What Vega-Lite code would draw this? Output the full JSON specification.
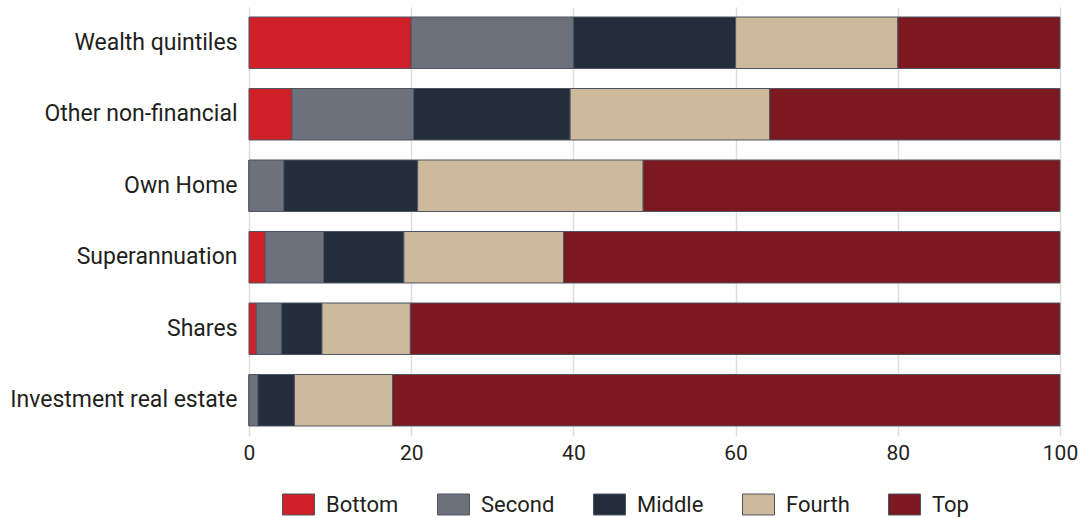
{
  "$schema": "https://vega.github.io/schema/vega-lite/v6.json",
  "width": 811,
  "height": 429,
  "padding": {"left": 249, "top": 7, "right": 20, "bottom": 82},
  "autosize": {"type": "none"},
  "background": "white",
  "config": {
    "view": {"stroke": null},
    "font": "Roboto",
    "axis": {"labelFont": "Roboto", "labelColor": "#231f20"},
    "legend": {"labelFont": "Roboto", "labelColor": "#231f20"}
  },
  "data": {
    "values": [
      {"category": "Wealth quintiles", "quintile": "Bottom", "rank": 1, "share": 20},
      {"category": "Wealth quintiles", "quintile": "Second", "rank": 2, "share": 20},
      {"category": "Wealth quintiles", "quintile": "Middle", "rank": 3, "share": 20},
      {"category": "Wealth quintiles", "quintile": "Fourth", "rank": 4, "share": 20},
      {"category": "Wealth quintiles", "quintile": "Top", "rank": 5, "share": 20},
      {"category": "Other non-financial", "quintile": "Bottom", "rank": 1, "share": 5.3},
      {"category": "Other non-financial", "quintile": "Second", "rank": 2, "share": 15.0},
      {"category": "Other non-financial", "quintile": "Middle", "rank": 3, "share": 19.3},
      {"category": "Other non-financial", "quintile": "Fourth", "rank": 4, "share": 24.6},
      {"category": "Other non-financial", "quintile": "Top", "rank": 5, "share": 35.8},
      {"category": "Own Home", "quintile": "Bottom", "rank": 1, "share": 0},
      {"category": "Own Home", "quintile": "Second", "rank": 2, "share": 4.3},
      {"category": "Own Home", "quintile": "Middle", "rank": 3, "share": 16.5},
      {"category": "Own Home", "quintile": "Fourth", "rank": 4, "share": 27.8},
      {"category": "Own Home", "quintile": "Top", "rank": 5, "share": 51.4},
      {"category": "Superannuation", "quintile": "Bottom", "rank": 1, "share": 2.0},
      {"category": "Superannuation", "quintile": "Second", "rank": 2, "share": 7.2},
      {"category": "Superannuation", "quintile": "Middle", "rank": 3, "share": 9.9},
      {"category": "Superannuation", "quintile": "Fourth", "rank": 4, "share": 19.7},
      {"category": "Superannuation", "quintile": "Top", "rank": 5, "share": 61.2},
      {"category": "Shares", "quintile": "Bottom", "rank": 1, "share": 0.9},
      {"category": "Shares", "quintile": "Second", "rank": 2, "share": 3.1},
      {"category": "Shares", "quintile": "Middle", "rank": 3, "share": 5.0},
      {"category": "Shares", "quintile": "Fourth", "rank": 4, "share": 10.9},
      {"category": "Shares", "quintile": "Top", "rank": 5, "share": 80.1},
      {"category": "Investment real estate", "quintile": "Bottom", "rank": 1, "share": 0},
      {"category": "Investment real estate", "quintile": "Second", "rank": 2, "share": 1.1},
      {"category": "Investment real estate", "quintile": "Middle", "rank": 3, "share": 4.5},
      {"category": "Investment real estate", "quintile": "Fourth", "rank": 4, "share": 12.1},
      {"category": "Investment real estate", "quintile": "Top", "rank": 5, "share": 82.3}
    ]
  },
  "mark": {"type": "bar", "stroke": "#4d5561", "strokeWidth": 1},
  "encoding": {
    "y": {
      "field": "category",
      "type": "nominal",
      "sort": ["Wealth quintiles", "Other non-financial", "Own Home", "Superannuation", "Shares", "Investment real estate"],
      "scale": {"paddingInner": 0.28, "paddingOuter": 0.14},
      "axis": {"title": null, "domain": false, "ticks": false, "labelFontSize": 23, "labelPadding": 12, "labelLimit": 300}
    },
    "x": {
      "field": "share",
      "type": "quantitative",
      "stack": "zero",
      "scale": {"domain": [0, 100], "nice": false},
      "axis": {"title": null, "values": [0, 20, 40, 60, 80, 100], "domain": false, "ticks": false, "grid": true, "gridColor": "#dedede", "gridWidth": 1.5, "labelFontSize": 21, "labelPadding": 6, "labelFlush": false}
    },
    "order": {"field": "rank", "type": "quantitative"},
    "color": {
      "field": "quintile",
      "type": "nominal",
      "scale": {
        "domain": ["Bottom", "Second", "Middle", "Fourth", "Top"],
        "range": ["#d02027", "#6d717c", "#232d3c", "#cdb99b", "#7b1820"]
      },
      "legend": {
        "title": null,
        "orient": "none",
        "direction": "horizontal",
        "legendX": 33,
        "legendY": 481,
        "symbolType": "M-1,-0.656H1V0.656H-1Z",
        "symbolSize": 1024,
        "symbolStrokeColor": "#4d5561",
        "symbolStrokeWidth": 1,
        "labelFontSize": 22,
        "labelOffset": 11,
        "columnPadding": 36
      }
    }
  }
}
